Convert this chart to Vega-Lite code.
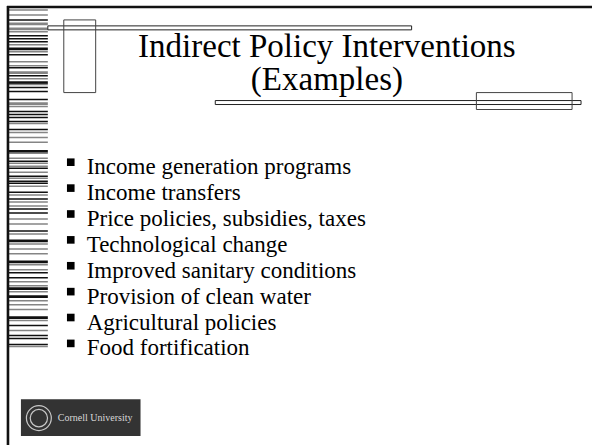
{
  "$schema": "https://vega.github.io/schema/vega-lite/v6.json",
  "width": 594,
  "height": 447,
  "autosize": {"type": "fit", "contains": "padding"},
  "padding": 0,
  "background": "white",
  "config": {"view": {"stroke": null}},
  "datasets": {
    "stripes": [
      {"x": 8, "x2": 48, "y": 10, "tone": "light", "w": "thin"}, {"x": 8, "x2": 48, "y": 15, "tone": "light", "w": "thin"}, {"x": 8, "x2": 48, "y": 20, "tone": "dark", "w": "thin"},
      {"x": 8, "x2": 48, "y": 24, "tone": "light", "w": "thick"}, {"x": 8, "x2": 48, "y": 29, "tone": "light", "w": "thick"}, {"x": 8, "x2": 48, "y": 32, "tone": "light", "w": "thin"},
      {"x": 8, "x2": 48, "y": 36, "tone": "dark", "w": "thin"}, {"x": 8, "x2": 48, "y": 39, "tone": "dark", "w": "thin"}, {"x": 8, "x2": 48, "y": 42, "tone": "dark", "w": "thin"},
      {"x": 8, "x2": 48, "y": 45, "tone": "light", "w": "thin"}, {"x": 8, "x2": 48, "y": 49, "tone": "dark", "w": "thick"}, {"x": 8, "x2": 48, "y": 52, "tone": "light", "w": "thin"},
      {"x": 8, "x2": 48, "y": 55, "tone": "dark", "w": "thin"}, {"x": 8, "x2": 48, "y": 62, "tone": "light", "w": "thin"}, {"x": 8, "x2": 48, "y": 66, "tone": "light", "w": "thin"},
      {"x": 8, "x2": 48, "y": 68, "tone": "dark", "w": "thin"}, {"x": 8, "x2": 48, "y": 73, "tone": "light", "w": "thick"}, {"x": 8, "x2": 48, "y": 76, "tone": "dark", "w": "thin"},
      {"x": 8, "x2": 48, "y": 79, "tone": "light", "w": "thin"}, {"x": 8, "x2": 48, "y": 83, "tone": "dark", "w": "thick"}, {"x": 8, "x2": 48, "y": 85, "tone": "light", "w": "thin"},
      {"x": 8, "x2": 48, "y": 88, "tone": "dark", "w": "thin"}, {"x": 8, "x2": 48, "y": 92, "tone": "dark", "w": "thin"}, {"x": 8, "x2": 48, "y": 100, "tone": "dark", "w": "thin"},
      {"x": 8, "x2": 48, "y": 104, "tone": "light", "w": "thick"}, {"x": 8, "x2": 48, "y": 107, "tone": "light", "w": "thin"}, {"x": 8, "x2": 48, "y": 112, "tone": "dark", "w": "thin"},
      {"x": 8, "x2": 48, "y": 115, "tone": "dark", "w": "thin"}, {"x": 8, "x2": 48, "y": 118, "tone": "dark", "w": "thin"}, {"x": 8, "x2": 48, "y": 122, "tone": "dark", "w": "thin"},
      {"x": 8, "x2": 48, "y": 124, "tone": "light", "w": "thin"}, {"x": 8, "x2": 48, "y": 130, "tone": "dark", "w": "thin"}, {"x": 8, "x2": 48, "y": 133, "tone": "light", "w": "thin"},
      {"x": 8, "x2": 48, "y": 138, "tone": "light", "w": "thin"}, {"x": 8, "x2": 48, "y": 143, "tone": "light", "w": "thin"}, {"x": 8, "x2": 48, "y": 152, "tone": "dark", "w": "thick"},
      {"x": 8, "x2": 48, "y": 154, "tone": "light", "w": "thin"}, {"x": 8, "x2": 48, "y": 159, "tone": "light", "w": "thin"}, {"x": 8, "x2": 48, "y": 162, "tone": "dark", "w": "thin"},
      {"x": 8, "x2": 48, "y": 164, "tone": "light", "w": "thin"}, {"x": 8, "x2": 48, "y": 167, "tone": "light", "w": "thin"}, {"x": 8, "x2": 48, "y": 169, "tone": "dark", "w": "thin"},
      {"x": 8, "x2": 48, "y": 173, "tone": "light", "w": "thin"}, {"x": 8, "x2": 48, "y": 177, "tone": "dark", "w": "thin"}, {"x": 8, "x2": 48, "y": 179, "tone": "light", "w": "thin"},
      {"x": 8, "x2": 48, "y": 182, "tone": "dark", "w": "thin"}, {"x": 8, "x2": 48, "y": 184, "tone": "dark", "w": "thin"}, {"x": 8, "x2": 48, "y": 187, "tone": "light", "w": "thin"},
      {"x": 8, "x2": 48, "y": 193, "tone": "dark", "w": "thin"}, {"x": 8, "x2": 48, "y": 196, "tone": "light", "w": "thin"}, {"x": 8, "x2": 48, "y": 200, "tone": "dark", "w": "thin"},
      {"x": 8, "x2": 48, "y": 203, "tone": "light", "w": "thin"}, {"x": 8, "x2": 48, "y": 207, "tone": "light", "w": "thin"}, {"x": 8, "x2": 48, "y": 210, "tone": "dark", "w": "thin"},
      {"x": 8, "x2": 48, "y": 214, "tone": "dark", "w": "thin"}, {"x": 8, "x2": 48, "y": 220, "tone": "light", "w": "thin"}, {"x": 8, "x2": 48, "y": 225, "tone": "light", "w": "thin"},
      {"x": 8, "x2": 48, "y": 232, "tone": "dark", "w": "thin"}, {"x": 8, "x2": 48, "y": 235, "tone": "light", "w": "thin"}, {"x": 8, "x2": 48, "y": 242, "tone": "dark", "w": "thick"},
      {"x": 8, "x2": 48, "y": 245, "tone": "light", "w": "thin"}, {"x": 8, "x2": 48, "y": 250, "tone": "light", "w": "thin"}, {"x": 8, "x2": 48, "y": 255, "tone": "light", "w": "thin"},
      {"x": 8, "x2": 48, "y": 263, "tone": "dark", "w": "thick"}, {"x": 8, "x2": 48, "y": 266, "tone": "light", "w": "thin"}, {"x": 8, "x2": 48, "y": 271, "tone": "light", "w": "thin"},
      {"x": 8, "x2": 48, "y": 274, "tone": "dark", "w": "thin"}, {"x": 8, "x2": 48, "y": 279, "tone": "dark", "w": "thin"}, {"x": 8, "x2": 48, "y": 283, "tone": "light", "w": "thin"},
      {"x": 8, "x2": 48, "y": 287, "tone": "light", "w": "thin"}, {"x": 8, "x2": 48, "y": 290, "tone": "dark", "w": "thick"}, {"x": 8, "x2": 48, "y": 293, "tone": "light", "w": "thin"},
      {"x": 8, "x2": 48, "y": 298, "tone": "dark", "w": "thick"}, {"x": 8, "x2": 48, "y": 302, "tone": "light", "w": "thin"}, {"x": 8, "x2": 48, "y": 306, "tone": "light", "w": "thin"},
      {"x": 8, "x2": 48, "y": 311, "tone": "light", "w": "thin"}, {"x": 8, "x2": 48, "y": 319, "tone": "dark", "w": "thick"}, {"x": 8, "x2": 48, "y": 322, "tone": "light", "w": "thin"},
      {"x": 8, "x2": 48, "y": 327, "tone": "dark", "w": "thin"}, {"x": 8, "x2": 48, "y": 332, "tone": "light", "w": "thin"}, {"x": 8, "x2": 48, "y": 337, "tone": "dark", "w": "thin"},
      {"x": 8, "x2": 48, "y": 340, "tone": "dark", "w": "thin"}, {"x": 8, "x2": 48, "y": 346, "tone": "dark", "w": "thin"}, {"x": 8, "x2": 48, "y": 348, "tone": "light", "w": "thin"}
    ],
    "frame": [
      {"x": 7, "x2": 594, "y": 7, "y2": 7},
      {"x": 8, "x2": 8, "y": 6, "y2": 447}
    ],
    "boxes": [
      {"x": 64, "x2": 96, "y": 20, "y2": 93, "fill": "open"},
      {"x": 48, "x2": 413, "y": 26, "y2": 30, "fill": "white"},
      {"x": 216, "x2": 583, "y": 101, "y2": 105, "fill": "white"},
      {"x": 478, "x2": 574, "y": 93, "y2": 110, "fill": "open"}
    ],
    "title": [
      {"text": "Indirect Policy Interventions", "x": 328, "y": 57},
      {"text": "(Examples)", "x": 328, "y": 90}
    ],
    "bullets": [
      {"text": "Income generation programs", "x": 87, "bx": 71, "y": 175},
      {"text": "Income transfers", "x": 87, "bx": 71, "y": 201},
      {"text": "Price policies, subsidies, taxes", "x": 87, "bx": 71, "y": 227},
      {"text": "Technological change", "x": 87, "bx": 71, "y": 253},
      {"text": "Improved sanitary conditions", "x": 87, "bx": 71, "y": 279},
      {"text": "Provision of clean water", "x": 87, "bx": 71, "y": 305},
      {"text": "Agricultural policies", "x": 87, "bx": 71, "y": 331},
      {"text": "Food fortification", "x": 87, "bx": 71, "y": 357}
    ],
    "logo": [
      {"x": 21, "x2": 141, "y": 401, "y2": 438}
    ],
    "seal": [
      {"x": 39, "y": 420, "ring": "outer"},
      {"x": 39, "y": 420, "ring": "inner"}
    ],
    "logotext": [
      {"text": "Cornell University", "x": 58, "y": 423}
    ]
  },
  "encoding": {
    "x": {"field": "x", "type": "quantitative", "scale": {"domain": [0, 594], "nice": false, "zero": false}, "axis": null},
    "y": {"field": "y", "type": "quantitative", "scale": {"domain": [0, 447], "nice": false, "zero": false, "reverse": true}, "axis": null}
  },
  "layer": [
    {
      "data": {"name": "stripes"},
      "mark": {"type": "rule"},
      "encoding": {
        "x2": {"field": "x2"},
        "color": {"field": "tone", "type": "nominal", "scale": {"domain": ["dark", "light"], "range": ["#111111", "#858585"]}, "legend": null},
        "strokeWidth": {"field": "w", "type": "nominal", "scale": {"domain": ["thin", "thick"], "range": [1.5, 2.7]}, "legend": null}
      }
    },
    {
      "data": {"name": "frame"},
      "mark": {"type": "rule", "color": "#111111", "strokeWidth": 2.6},
      "encoding": {"x2": {"field": "x2"}, "y2": {"field": "y2"}}
    },
    {
      "data": {"name": "boxes"},
      "transform": [{"filter": "datum.fill === 'white'"}],
      "mark": {"type": "rect", "fill": "white", "stroke": "#222222", "strokeWidth": 1},
      "encoding": {"x2": {"field": "x2"}, "y2": {"field": "y2"}}
    },
    {
      "data": {"name": "boxes"},
      "transform": [{"filter": "datum.fill === 'open'"}],
      "mark": {"type": "rect", "fill": null, "fillOpacity": 0, "stroke": "#444444", "strokeWidth": 1},
      "encoding": {"x2": {"field": "x2"}, "y2": {"field": "y2"}}
    },
    {
      "data": {"name": "title"},
      "mark": {"type": "text", "font": "Liberation Serif", "fontSize": 33, "align": "center", "baseline": "alphabetic", "color": "#000000"},
      "encoding": {"text": {"field": "text"}}
    },
    {
      "data": {"name": "bullets"},
      "mark": {"type": "point", "shape": "square", "filled": true, "size": 58, "color": "#000000", "opacity": 1, "yOffset": -12},
      "encoding": {"x": {"field": "bx", "type": "quantitative"}}
    },
    {
      "data": {"name": "bullets"},
      "mark": {"type": "text", "font": "Liberation Serif", "fontSize": 23, "align": "left", "baseline": "alphabetic", "color": "#000000"},
      "encoding": {"text": {"field": "text"}}
    },
    {
      "data": {"name": "logo"},
      "mark": {"type": "rect", "fill": "#333333"},
      "encoding": {"x2": {"field": "x2"}, "y2": {"field": "y2"}}
    },
    {
      "data": {"name": "seal"},
      "mark": {"type": "point", "shape": "circle", "filled": false, "color": "#c8c8c8", "strokeWidth": 1.2, "opacity": 1},
      "encoding": {
        "size": {"field": "ring", "type": "nominal", "scale": {"domain": ["outer", "inner"], "range": [620, 300]}, "legend": null}
      }
    },
    {
      "data": {"name": "logotext"},
      "mark": {"type": "text", "font": "Liberation Serif", "fontSize": 10, "align": "left", "baseline": "alphabetic", "color": "#d8d8d8"},
      "encoding": {"text": {"field": "text"}}
    }
  ]
}
